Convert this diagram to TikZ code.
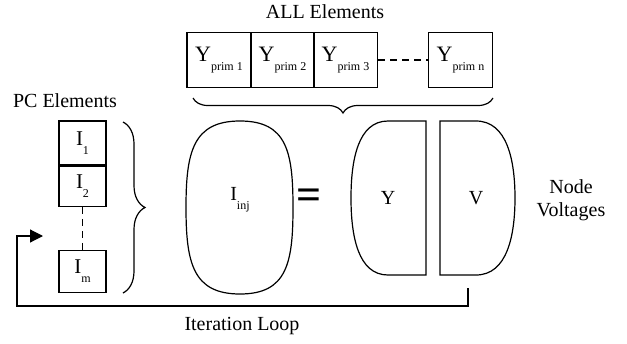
\documentclass[tikz,border=0pt]{standalone}
\usepackage{fontspec}
\setmainfont{Liberation Serif}
\usetikzlibrary{arrows.meta,decorations.pathreplacing}

\newcommand{\elem}[3]{{\fontsize{#1}{#1}\selectfont #2}\raisebox{-4.5pt}{\fontsize{6}{7}\selectfont #3}}

\begin{document}
\begin{tikzpicture}[x=0.5pt,y=-0.5pt,line width=0.6pt,
    ybox/.style={draw,minimum width=32pt,minimum height=27.5pt,inner sep=0pt},
    ibox/.style={draw,minimum width=23.5pt,minimum height=21pt,inner sep=0pt},
    txt/.style={font=\fontsize{10}{11.5}\selectfont,align=center}]
    \useasboundingbox (0,0) rectangle (627,343);

    %all elements
    \node[txt] (all) at (325,12) {ALL Elements};
    \node[ybox] (y1) at (219,60) {\elem{11}{Y}{prim 1}};
    \node[ybox] (y2) at (282.5,60) {\elem{11}{Y}{prim 2}};
    \node[ybox] (y3) at (345.5,60) {\elem{11}{Y}{prim 3}};
    \node[ybox] (yn) at (460.5,60) {\elem{11}{Y}{prim n}};
    \draw[dash pattern=on 3.5pt off 2.5pt] (y3.east) -- (yn.west);
    \coordinate (tb1) at (193,98);
    \coordinate (tb2) at (493,98);
    \draw[decorate,decoration={brace,mirror,amplitude=7.5pt}] (tb1) -- (tb2);

    %pc elements
    \node[txt] (pc) at (65,101) {PC Elements};
    \node[ibox,minimum height=22pt] (i1) at (82.5,143) {\elem{10.5}{I}{1}};
    \node[ibox,minimum height=20pt,anchor=north] (i2) at (i1.south) {\elem{10.5}{I}{2}};
    \node[ibox] (im) at (82.5,271.5) {\elem{10.5}{I}{m}};
    \draw[dash pattern=on 3.5pt off 2.5pt] (i2.south) -- (im.north);
    \coordinate (lb1) at (123,122);
    \coordinate (lb2) at (123,293);
    \draw[decorate,decoration={brace,amplitude=11pt}] (lb1) -- (lb2);

    %equation
    \draw (240,121) .. controls (287,121) and (293,152) .. (293,207.5)
        .. controls (293,263) and (287,294) .. (240,294)
        .. controls (193,294) and (186,263) .. (186,207.5)
        .. controls (186,152) and (193,121) .. (240,121) -- cycle;
    \node (inj) at (240,200) {\elem{10}{I}{inj}};
    \node (eq) at (309,199) {\fontsize{22}{22}\selectfont\bfseries =};
    \draw (426,121) -- (388,121) .. controls (358,121) and (351,160) .. (351,198)
        .. controls (351,236) and (358,275) .. (388,275) -- (426,275) -- cycle;
    \draw (440,121) -- (476,121) .. controls (507,121) and (515,160) .. (515,198)
        .. controls (515,236) and (507,275) .. (476,275) -- (440,275) -- cycle;
    \node[txt] (ylab) at (388,198) {Y};
    \node[txt] (vlab) at (476,198) {V};
    \node[txt] (nv) at (571,200) {Node\\Voltages};

    %loop
    \coordinate (vb) at (468,288);
    \coordinate (lr) at (468,306);
    \coordinate (ll) at (17,306);
    \coordinate (lt) at (43,236);
    \draw[-{Triangle[length=6.5pt,width=6.5pt]}] (vb) -- (lr) -- (ll) |- (lt);
    \node[txt] (it) at (242,326) {Iteration Loop};

\end{tikzpicture}
\end{document}
